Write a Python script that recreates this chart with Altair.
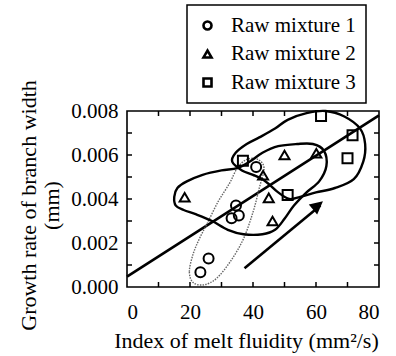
import altair as alt
import pandas as pd

# ---------------- data ----------------
series_names = ["Raw mixture 1", "Raw mixture 2", "Raw mixture 3"]

m1_x = [23.3, 25.9, 33.2, 35.5, 34.6, 41.0]
m1_y = [0.00067, 0.0013, 0.00312, 0.00325, 0.00370, 0.00545]

m2_x = [18.3, 43.2, 50.0, 60.1, 45.0, 46.2]
m2_y = [0.00408, 0.00508, 0.0060, 0.00608, 0.00405, 0.00300]

m3_x = [36.8, 51.0, 61.6, 71.6, 70.0]
m3_y = [0.00574, 0.00418, 0.00777, 0.0069, 0.00585]

# fitted straight line (end points)
fit_x = [0.0, 80.0]
fit_y = [0.00047, 0.0078]

# arrow (tail -> tip)
arrow_x = [37.3, 61.4]
arrow_y = [0.00085, 0.0037]
arrow_tip_x = [62.2]
arrow_tip_y = [0.0039]

# hand-drawn enclosing loops
loopA_x = [33.4, 34.5, 38, 42, 47, 51, 57, 63, 69, 74, 75.6, 75, 72, 66, 60, 55, 51.5, 48, 44, 40, 36.5]
loopA_y = [0.0057, 0.0061, 0.0065, 0.0068, 0.0072, 0.0076, 0.0079, 0.00800, 0.00775, 0.0072, 0.0065,
           0.0057, 0.0049, 0.0045, 0.0043, 0.0041, 0.0040, 0.0043, 0.0048, 0.0051, 0.0053]

loopB_x = [15, 16, 19, 24, 30, 35, 39, 43, 48, 54, 59, 62.5, 63.3, 61, 57, 53, 50, 47, 43, 37, 32, 27, 22, 18, 15.5]
loopB_y = [0.0041, 0.0045, 0.0048, 0.0051, 0.0053, 0.0054, 0.0057, 0.0061, 0.0064, 0.0065, 0.0065, 0.0062,
           0.0055, 0.0048, 0.0043, 0.0037, 0.0031, 0.0026, 0.0024, 0.0024, 0.0026, 0.0030, 0.0033, 0.0035, 0.0037]

loopC_x = [21, 19.8, 21, 23, 25.5, 29, 32.5, 35, 38, 41.5, 43.5, 42, 40, 37, 33, 28.5, 24.5]
loopC_y = [0.0002, 0.0007, 0.0015, 0.0022, 0.0029, 0.0039, 0.0047, 0.0054, 0.0058, 0.0058, 0.0054,
           0.0045, 0.0034, 0.0022, 0.0012, 0.0004, 0.0001]

x_ticks_minor = [10, 20, 30, 40, 50, 60, 70]
y_ticks_minor = [0.001, 0.002, 0.003, 0.004, 0.005, 0.006, 0.007]
x_labels = [0, 20, 40, 60, 80]
y_labels = [0.000, 0.002, 0.004, 0.006, 0.008]

# ---------------- tables ----------------
pts = pd.DataFrame(
    [{"x": a, "y": b, "s": series_names[0]} for a, b in zip(m1_x, m1_y)]
    + [{"x": a, "y": b, "s": series_names[1]} for a, b in zip(m2_x, m2_y)]
    + [{"x": a, "y": b, "s": series_names[2]} for a, b in zip(m3_x, m3_y)]
)

def loop_df(xs, ys):
    return pd.DataFrame({"x": xs, "y": ys, "o": list(range(len(xs)))})

W, H = 252, 176
FONT = "Liberation Serif"

xs = alt.Scale(domain=[0, 80], nice=False)
ys = alt.Scale(domain=[0, 0.008], nice=False)

X = alt.X("x:Q", scale=xs, axis=alt.Axis(values=x_labels, format="d", title="Index of melt fluidity (mm²/s)"))
Y = alt.Y("y:Q", scale=ys, axis=alt.Axis(values=y_labels, format=".3f",
                                         title=["Growth rate of branch width", "(mm)"]))

def loop_layer(df, dash=None, color="black", width=2.4):
    kw = dict(interpolate="cardinal-closed", color=color, strokeWidth=width)
    if dash is not None:
        kw["strokeDash"] = dash
    return alt.Chart(df).mark_line(**kw).encode(
        x=alt.X("x:Q", scale=xs), y=alt.Y("y:Q", scale=ys), order="o:Q")

loopA = loop_layer(loop_df(loopA_x, loopA_y))
loopB = loop_layer(loop_df(loopB_x, loopB_y))
loopC = loop_layer(loop_df(loopC_x, loopC_y), dash=[1.5, 1.2], color="#666666", width=1.4)

fit = alt.Chart(pd.DataFrame({"x": fit_x, "y": fit_y})).mark_line(color="black", strokeWidth=2.6).encode(
    x=X, y=Y)

arrow_line = alt.Chart(pd.DataFrame({"x": arrow_x, "y": arrow_y})).mark_line(color="black", strokeWidth=2.6).encode(
    x=alt.X("x:Q", scale=xs), y=alt.Y("y:Q", scale=ys))
arrow_head = alt.Chart(pd.DataFrame({"x": arrow_tip_x, "y": arrow_tip_y})).mark_point(
    shape="M0,0L-1,2L1,2Z", angle=50, size=169, filled=True, color="black", opacity=1, strokeWidth=0
).encode(x=alt.X("x:Q", scale=xs), y=alt.Y("y:Q", scale=ys))

points = alt.Chart(pts).mark_point(filled=False, size=100, strokeWidth=2, color="black", opacity=1).encode(
    x=alt.X("x:Q", scale=xs),
    y=alt.Y("y:Q", scale=ys),
    shape=alt.Shape("s:N", scale=alt.Scale(domain=series_names, range=["circle", "triangle-up", "square"]),
                    legend=alt.Legend(title=None, orient="none", legendX=60, legendY=-106,
                                      strokeColor="black", padding=10, fillColor="white",
                                      symbolSize=64, symbolStrokeWidth=2.6, symbolStrokeColor="black",
                                      symbolFillColor="transparent", labelFont=FONT, labelFontSize=21,
                                      labelColor="black", labelOffset=13, rowPadding=6.5, labelLimit=300)),
)

# inward ticks on all four sides
tx = pd.DataFrame({"x": x_ticks_minor})
ty = pd.DataFrame({"y": y_ticks_minor})
TL = 5
tick_style = dict(color="black", strokeWidth=1.5)
t_bottom = alt.Chart(tx).mark_rule(**tick_style).encode(x=alt.X("x:Q", scale=xs), y=alt.value(H), y2=alt.value(H - TL))
t_top = alt.Chart(tx).mark_rule(**tick_style).encode(x=alt.X("x:Q", scale=xs), y=alt.value(0), y2=alt.value(TL))
t_left = alt.Chart(ty).mark_rule(**tick_style).encode(y=alt.Y("y:Q", scale=ys), x=alt.value(0), x2=alt.value(TL))
t_right = alt.Chart(ty).mark_rule(**tick_style).encode(y=alt.Y("y:Q", scale=ys), x=alt.value(W - TL), x2=alt.value(W))

chart = alt.layer(
    fit, loopC, loopB, loopA, arrow_line, arrow_head, points, t_bottom, t_top, t_left, t_right
).properties(
    width=W, height=H,
    autosize=alt.AutoSizeParams(type="none"),
    padding={"left": 127, "top": 111, "right": 396 - 127 - W, "bottom": 356 - 111 - H},
    background="white",
).configure_view(
    stroke="black", strokeWidth=1.6
).configure_legend(
    strokeWidth=1.5
).configure_axis(
    grid=False, ticks=False, domain=False,
    labelFont=FONT, labelFontSize=21, labelColor="black",
    titleFont=FONT, titleFontSize=22, titleFontWeight="normal", titleColor="black",
).configure_axisX(
    labelPadding=14, titleX=119, titleY=53, titleBaseline="middle", titleAlign="center",
).configure_axisY(
    labelPadding=9, titleX=-99, titleY=94, titleAngle=-90, titleBaseline="middle",
    titleAlign="center", titleLineHeight=23,
)

chart.save("out.html", embed_options={"renderer": "svg", "actions": False})
